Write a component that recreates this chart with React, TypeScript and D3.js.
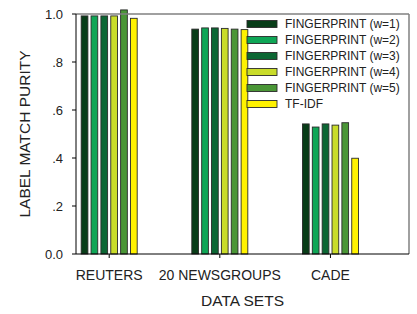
import React from 'react';
import * as d3 from 'd3';

// data
const datasets = ['REUTERS', '20 NEWSGROUPS', 'CADE'];
const seriesNames = [
  'FINGERPRINT (w=1)',
  'FINGERPRINT (w=2)',
  'FINGERPRINT (w=3)',
  'FINGERPRINT (w=4)',
  'FINGERPRINT (w=5)',
  'TF-IDF',
];
const seriesColors = ['#083d18', '#0fa656', '#0c6734', '#c9dc2a', '#4a9636', '#fff200'];
const w1 = [0.992, 0.937, 0.542];
const w2 = [0.992, 0.942, 0.529];
const w3 = [0.992, 0.942, 0.542];
const w4 = [0.992, 0.94, 0.537];
const w5 = [1.017, 0.937, 0.547];
const tfidf = [0.982, 0.935, 0.399];
const seriesValues = [w1, w2, w3, w4, w5, tfidf];
const yTicks = [0, 0.2, 0.4, 0.6, 0.8, 1.0];
const yTickLabels = ['0.0', '.2', '.4', '.6', '.8', '1.0'];

const W = 417;
const H = 314;
const left = 76;
const right = 409;
const top = 14;
const bottom = 254;
const font = 'Liberation Sans, Arial, sans-serif';

export default function App() {
  const y = d3.scaleLinear().domain([0, 1]).range([bottom, top]);
  // group centres on a linear index scale
  const x = d3.scaleLinear().domain([0.7, 3.71]).range([left, right]);
  const inner = d3.scaleBand<number>()
    .domain(d3.range(seriesNames.length))
    .range([-28, 28])
    .paddingInner(0.32);

  return (
    <svg width={W} height={H} style={{ position: 'absolute', left: 0, top: 0 }} fontFamily={font}>
      <rect width={W} height={H} fill="#fff" />

      {/* bars */}
      {datasets.map((ds, gi) => (
        <g key={ds} transform={`translate(${x(gi + 1)},0)`}>
          {seriesValues.map((vals, si) => (
            <rect
              key={si}
              x={inner(si)!}
              y={y(vals[gi])}
              width={inner.bandwidth()}
              height={bottom - y(vals[gi])}
              fill={seriesColors[si]}
              stroke="#2a2a2a"
              strokeWidth={0.9}
            />
          ))}
        </g>
      ))}

      {/* frame */}
      <line x1={left} x2={right} y1={top} y2={top} stroke="#808080" strokeWidth={1.5} />
      <line x1={right} x2={right} y1={top} y2={bottom} stroke="#808080" strokeWidth={1.5} />
      <line x1={left} x2={left} y1={top} y2={bottom} stroke="#000" strokeWidth={1} />
      <line x1={left} x2={right} y1={bottom} y2={bottom} stroke="#000" strokeWidth={1} />

      {/* y axis */}
      {yTicks.map((t, i) => (
        <g key={t}>
          <line x1={left - 4} x2={left} y1={y(t)} y2={y(t)} stroke="#000" />
          <text x={63} y={y(t)} dy="0.35em" textAnchor="end" fontSize={13} fill="#222">
            {yTickLabels[i]}
          </text>
        </g>
      ))}
      <text
        transform={`translate(30,${(top + bottom) / 2}) rotate(-90)`}
        textAnchor="middle"
        fontSize={15.5}
        fill="#222"
      >
        LABEL MATCH PURITY
      </text>

      {/* x axis */}
      {datasets.map((ds, gi) => (
        <g key={ds}>
          <line x1={x(gi + 1)} x2={x(gi + 1)} y1={bottom} y2={bottom + 4} stroke="#000" />
          <text x={x(gi + 1)} y={279.5} textAnchor="middle" fontSize={14} fill="#222">
            {ds}
          </text>
        </g>
      ))}
      <text x={(left + right) / 2} y={306} textAnchor="middle" fontSize={15.5} fill="#222">
        DATA SETS
      </text>

      {/* legend */}
      {seriesNames.map((name, si) => (
        <g key={name} transform={`translate(247,${24 + si * 16})`}>
          <rect x={0} y={-3.5} width={30} height={7} fill={seriesColors[si]} stroke="#2a2a2a" strokeWidth={0.9} />
          <text x={38} y={0} dy="0.35em" fontSize={12} fill="#222">
            {name}
          </text>
        </g>
      ))}
    </svg>
  );
}
